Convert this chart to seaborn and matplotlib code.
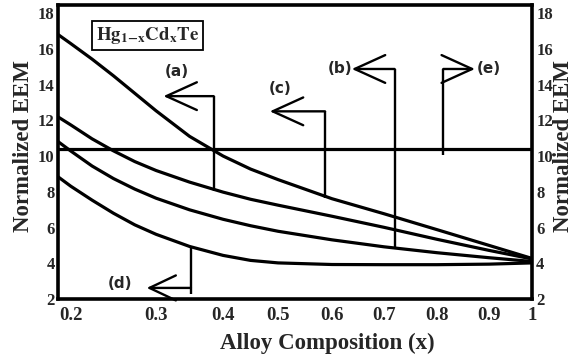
import numpy as np
import matplotlib
matplotlib.use("Agg")
import matplotlib.pyplot as plt
import seaborn as sns

# Normalized EEM versus Cd mole fraction for the four curves
x_comp = [0.185, 0.2, 0.225, 0.25, 0.275, 0.3, 0.35, 0.4, 0.45, 0.5, 0.6, 0.7, 0.8, 0.9, 1.0]
eem_a = [16.80, 16.29, 15.42, 14.49, 13.51, 12.53, 11.10, 10.00, 9.27, 8.68, 7.61, 6.77, 5.88, 5.00, 4.27]
eem_b = [12.19, 11.74, 10.96, 10.29, 9.69, 9.19, 8.54, 7.98, 7.58, 7.25, 6.63, 6.01, 5.34, 4.72, 4.24]
eem_c = [10.81, 10.28, 9.44, 8.74, 8.15, 7.64, 6.99, 6.46, 6.10, 5.79, 5.31, 4.92, 4.59, 4.31, 4.10]
eem_d = [8.84, 8.31, 7.53, 6.80, 6.15, 5.62, 4.94, 4.44, 4.16, 4.02, 3.93, 3.92, 3.92, 3.95, 4.02]
eem_e = 10.4  # constant level

x_ticks = [0.2, 0.3, 0.4, 0.5, 0.6, 0.7, 0.8, 0.9, 1.0]
x_tick_labels = ["0.2", "0.3", "0.4", "0.5", "0.6", "0.7", "0.8", "0.9", "1"]
y_ticks = [2, 4, 6, 8, 10, 12, 14, 16, 18]

# Curve labels with their bracket arrows: vertical stem (x, y_from -> y_to),
# horizontal arrow at y_to ending at tip_x, and label position
callout_labels = ["(a)", "(c)", "(b)", "(e)"]
callout_x = [0.386, 0.587, 0.720, 0.812]
callout_y_from = [8.05, 7.65, 4.85, 10.05]
callout_y_to = [13.35, 12.5, 14.87, 14.87]
callout_tip_x = [0.311, 0.485, 0.638, 0.873]
callout_text_xy = [(0.331, 14.75), (0.504, 13.8), (0.616, 14.87), (0.899, 14.87)]

# (d) hangs below its curve
d_x, d_y_from, d_y_to, d_arrow_y, d_tip_x = 0.352, 4.92, 2.29, 2.62, 0.289
d_text_xy = (0.258, 2.85)

# Non-uniform composition axis
axis_comp = [0.1, 0.2, 0.3, 0.4, 0.5, 0.6, 0.7, 0.8, 0.9, 1.0, 1.1]
axis_pos = [-14.6, 70.7, 156, 223, 278, 332, 384, 437, 489, 532, 575]


def forward(v):
    return np.interp(v, axis_comp, axis_pos)


def inverse(p):
    return np.interp(p, axis_pos, axis_comp)


sns.set_style("white")
plt.rcParams["font.family"] = ["Liberation Serif", "DejaVu Serif"]
plt.rcParams["font.weight"] = "bold"
plt.rcParams["mathtext.fontset"] = "stix"

fig = plt.figure(figsize=(5.82, 3.61), dpi=100)
ax = fig.add_axes([58 / 582, 1 - 299 / 361, 474 / 582, 294 / 361])

lw_curve = 2.3
for series in (eem_a, eem_b, eem_c, eem_d):
    sns.lineplot(x=x_comp, y=series, ax=ax, color="black", lw=lw_curve,
                 estimator=None, sort=False, legend=False)
ax.axhline(eem_e, color="black", lw=lw_curve)

ax.set_xscale("function", functions=(forward, inverse))
ax.set_xlim(0.185, 1.0)
ax.set_ylim(2, 18.45)
ax.set_xticks(x_ticks)
ax.set_xticklabels(x_tick_labels)
ax.set_yticks(y_ticks)
ax.tick_params(axis="x", length=0, pad=6, labelsize=13.5)
ax.tick_params(axis="y", length=0, pad=2.5, labelsize=12)
for lab in ax.get_xticklabels() + ax.get_yticklabels():
    lab.set_fontweight("bold")

for sp in ax.spines.values():
    sp.set_linewidth(2.6)
    sp.set_color("black")

ax.set_xlabel("Alloy Composition (x)", fontsize=16.5, fontweight="bold")
ax.xaxis.set_label_coords(0.569, -0.115)
ax.set_ylabel("Normalized EEM", fontsize=16.5, fontweight="bold")
ax.yaxis.set_label_coords(-0.05, 0.519)

twin = ax.twinx()
twin.set_ylim(ax.get_ylim())
twin.set_yticks(y_ticks)
twin.tick_params(axis="y", length=0, pad=3, labelsize=12)
for lab in twin.get_yticklabels():
    lab.set_fontweight("bold")
twin.set_ylabel("Normalized EEM", fontsize=16.5, fontweight="bold")
twin.yaxis.set_label_coords(1.045, 0.519)
for sp in twin.spines.values():
    sp.set_visible(False)

arrow_style = "->,head_length=2.2,head_width=1.0"
lbl_font = dict(family="DejaVu Sans", fontweight="bold", fontsize=11)

for lab, xv, y0, y1, tip, (tx, ty) in zip(callout_labels, callout_x, callout_y_from,
                                          callout_y_to, callout_tip_x, callout_text_xy):
    ax.plot([xv, xv], [y0, y1], color="black", lw=1.7, solid_capstyle="butt")
    ax.annotate("", xy=(tip, y1), xytext=(xv, y1),
                arrowprops=dict(arrowstyle=arrow_style, lw=1.7, color="black",
                                shrinkA=0, shrinkB=0, mutation_scale=10))
    ax.text(tx, ty, lab, ha="center", va="center", **lbl_font)

ax.plot([d_x, d_x], [d_y_from, d_y_to], color="black", lw=1.7, solid_capstyle="butt")
ax.annotate("", xy=(d_tip_x, d_arrow_y), xytext=(d_x, d_arrow_y),
            arrowprops=dict(arrowstyle="->,head_length=1.9,head_width=0.9", lw=1.7,
                            color="black", shrinkA=0, shrinkB=0, mutation_scale=10))
ax.text(d_text_xy[0], d_text_xy[1], "(d)", ha="center", va="center", **lbl_font)

ax.text(0.189, 0.896, r"$\mathbf{Hg}_{\mathbf{1\!-\!x}}\mathbf{Cd}_{\mathbf{x}}\mathbf{Te}$",
        transform=ax.transAxes, ha="center", va="center", fontsize=13.5,
        bbox=dict(boxstyle="square,pad=0.2", fc="white", ec="black", lw=1.3))

fig.savefig("out.png", dpi=100)
